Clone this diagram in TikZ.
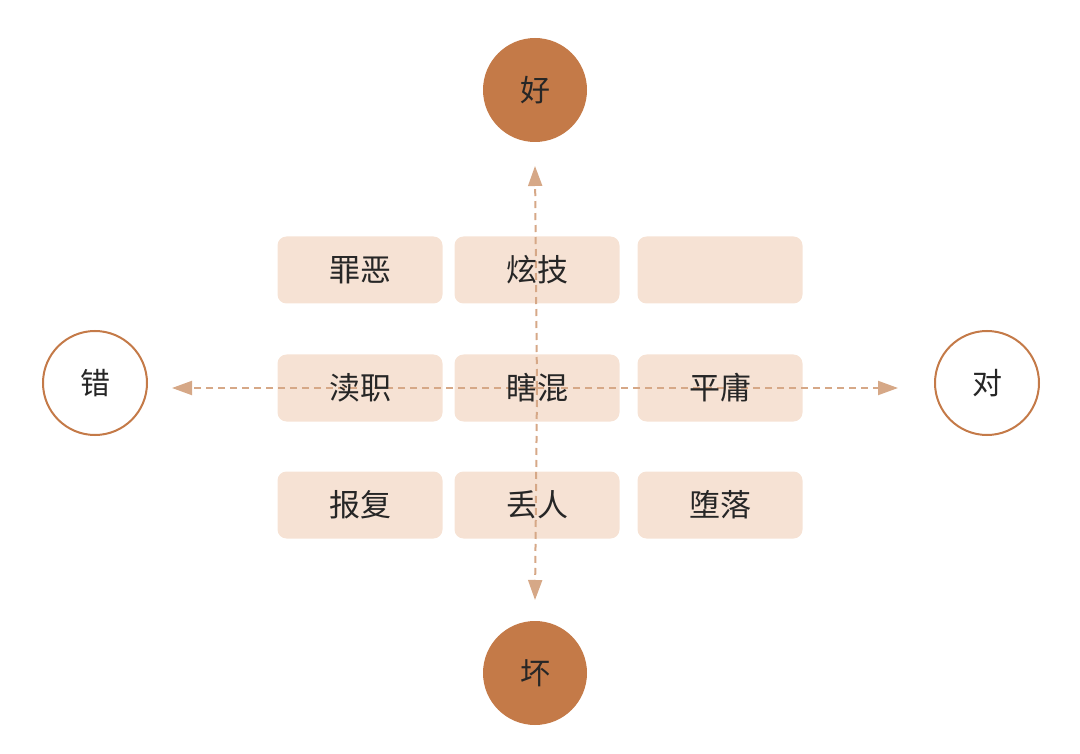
\documentclass[tikz,border=0pt]{standalone}
\usepackage{fontspec}
\setmainfont{Noto Sans CJK SC}
\usetikzlibrary{positioning,arrows.meta}
\definecolor{rust}{HTML}{C47A48}
\definecolor{peach}{HTML}{F6E2D4}
\definecolor{sand}{HTML}{D6A887}
\begin{document}
\begin{tikzpicture}[x=1pt, y=-1pt]
    \tikzset{
        pole/.style = {circle, minimum size=104pt, inner sep=0pt, font=\fontsize{30}{30}\selectfont},
        full/.style = {pole, fill=rust, text=black!85},
        hollow/.style = {pole, draw=rust, line width=2pt, fill=white, text=black!85},
        cell/.style = {rectangle, rounded corners=9pt, fill=peach, minimum width=165pt, minimum height=67pt},
        word/.style = {font=\fontsize{31}{31}\selectfont, text=black!85},
        axis/.style = {sand, line width=2pt, dashed, dash pattern=on 7pt off 5pt, -{Triangle[length=20pt, width=14pt]}}
    }
    \useasboundingbox (0,0) rectangle (1080,754);

    \node[full] (good) at (535,90) {好};
    \node[full] (bad) at (535,673) {坏};
    \node[hollow] (wrong) at (95,383) {错};
    \node[hollow] (right) at (987,383) {对};

    % grid of cells
    \foreach \r/\y in {0/270, 1/388, 2/505} {
        \foreach \c/\x in {0/360, 1/537, 2/720} {
            \node[cell] (c\r\c) at (\x,\y) {};
        }
    }

    \coordinate (up) at (535,166);
    \coordinate (down) at (535,600);
    \coordinate (west) at (172,388);
    \coordinate (east) at (898,388);
    \draw[axis] (c11.center) -- (up);
    \draw[axis] (c11.center) -- (down);
    \draw[axis] (c11.center) -- (west);
    \draw[axis] (c11.center) -- (east);

    \node[word] at (c00) {罪恶};
    \node[word] at (c01) {炫技};
    \node[word] at (c10) {渎职};
    \node[word] at (c11) {瞎混};
    \node[word] at (c12) {平庸};
    \node[word] at (c20) {报复};
    \node[word] at (c21) {丢人};
    \node[word] at (c22) {堕落};
\end{tikzpicture}
\end{document}
